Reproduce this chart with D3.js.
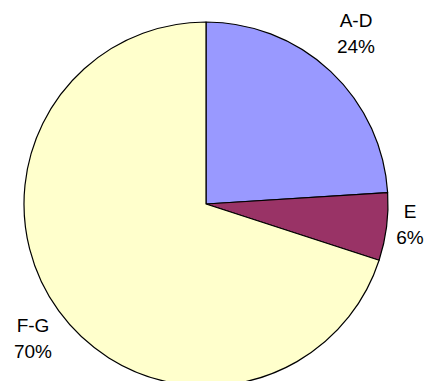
<!DOCTYPE html>
<html>
<head>
<meta charset="utf-8">
<script src="https://cdn.jsdelivr.net/npm/d3@7"></script>
<style>
  html, body { margin: 0; padding: 0; background: #fff; }
  svg { display: block; }
</style>
</head>
<body>
<script>
// Share of groups
const categories = ["A-D", "E", "F-G"];
const shares = [24, 6, 70];
const sliceColors = ["#9999FF", "#993366", "#FFFFCC"];

const width = 426, height = 381;
const cx = 206, cy = 204, radius = 182;

const svg = d3.select("body").append("svg")
  .attr("width", width)
  .attr("height", height);

const pie = d3.pie().sort(null).value(d => d.value);
const arcs = pie(categories.map((c, i) => ({ name: c, value: shares[i], color: sliceColors[i] })));

const arc = d3.arc().innerRadius(0).outerRadius(radius);

const g = svg.append("g").attr("transform", `translate(${cx},${cy})`);

g.selectAll("path.slice")
  .data(arcs)
  .join("path")
  .attr("class", "slice")
  .attr("d", arc)
  .attr("fill", d => d.data.color)
  .attr("stroke", "#000")
  .attr("stroke-width", 1.2)
  .attr("stroke-linejoin", "round");

// Labels outside the pie: name above percentage (anchor = first baseline)
const labelPos = {
  "A-D": [356, 27],
  "E": [410, 218],
  "F-G": [33, 332]
};

g.selectAll("text.lbl")
  .data(arcs)
  .join("text")
  .attr("class", "lbl")
  .attr("font-family", "Liberation Sans, Arial, sans-serif")
  .attr("font-size", 19)
  .attr("fill", "#000")
  .attr("text-anchor", "middle")
  .each(function(d) {
    const p = labelPos[d.data.name];
    const x = p[0] - cx, y = p[1] - cy;
    const t = d3.select(this);
    t.append("tspan").attr("x", x).attr("y", y).text(d.data.name);
    t.append("tspan").attr("x", x).attr("y", y + 26).text(d.data.value + "%");
  });
</script>
</body>
</html>
